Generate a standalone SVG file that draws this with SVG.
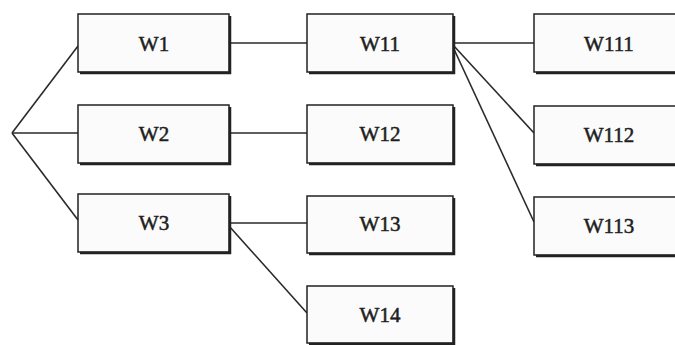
<svg xmlns="http://www.w3.org/2000/svg" width="675" height="345" viewBox="0 0 675 345">
<style>
.box{fill:#fbfbfb;stroke:#222;stroke-width:1.5}
.sh{fill:none;stroke:#222;stroke-width:2.5}
.lbl{font-family:"Liberation Serif",serif;font-size:21px;fill:#1e1e1e;stroke:#1e1e1e;stroke-width:0.5;text-anchor:middle}
.ln{fill:none;stroke:#2a2a2a;stroke-width:1.6}
</style>
<rect width="675" height="345" fill="#ffffff"/>
<g id="connectors">
<line class="ln" x1="12" y1="133" x2="78" y2="46"/>
<line class="ln" x1="12" y1="133" x2="78" y2="133"/>
<line class="ln" x1="12" y1="133" x2="78" y2="220"/>
<line class="ln" x1="229" y1="43" x2="307" y2="43"/>
<line class="ln" x1="229" y1="133" x2="307" y2="133"/>
<line class="ln" x1="229" y1="223" x2="307" y2="223"/>
<line class="ln" x1="229" y1="226" x2="307" y2="313"/>
<line class="ln" x1="453" y1="43" x2="534" y2="43"/>
<line class="ln" x1="453" y1="45" x2="534" y2="133"/>
<line class="ln" x1="453" y1="47" x2="534" y2="222"/>
</g>
<g id="W1"><rect class="box" x="78" y="14" width="151" height="58"/><polyline class="sh" points="80,73 230,73 230,16"/><text class="lbl" x="154" y="51">W1</text></g>
<g id="W2"><rect class="box" x="78" y="105" width="151" height="58"/><polyline class="sh" points="80,164 230,164 230,107"/><text class="lbl" x="154" y="141">W2</text></g>
<g id="W3"><rect class="box" x="78" y="194" width="151" height="58"/><polyline class="sh" points="80,253 230,253 230,196"/><text class="lbl" x="154" y="230">W3</text></g>
<g id="W11"><rect class="box" x="307" y="14" width="146" height="58"/><polyline class="sh" points="309,73 454,73 454,16"/><text class="lbl" x="380" y="51">W11</text></g>
<g id="W12"><rect class="box" x="307" y="105" width="146" height="58"/><polyline class="sh" points="309,164 454,164 454,107"/><text class="lbl" x="380" y="141">W12</text></g>
<g id="W13"><rect class="box" x="307" y="196" width="146" height="57"/><polyline class="sh" points="309,254 454,254 454,198"/><text class="lbl" x="380" y="231">W13</text></g>
<g id="W14"><rect class="box" x="307" y="286" width="146" height="57"/><polyline class="sh" points="309,344 454,344 454,288"/><text class="lbl" x="380" y="322">W14</text></g>
<g id="W111"><rect class="box" x="534" y="14" width="150" height="58"/><polyline class="sh" points="536,73 684,73"/><text class="lbl" x="609" y="51">W111</text></g>
<g id="W112"><rect class="box" x="534" y="106" width="150" height="58"/><polyline class="sh" points="536,165 684,165"/><text class="lbl" x="609" y="142">W112</text></g>
<g id="W113"><rect class="box" x="534" y="197" width="150" height="58"/><polyline class="sh" points="536,256 684,256"/><text class="lbl" x="609" y="233">W113</text></g>
</svg>
